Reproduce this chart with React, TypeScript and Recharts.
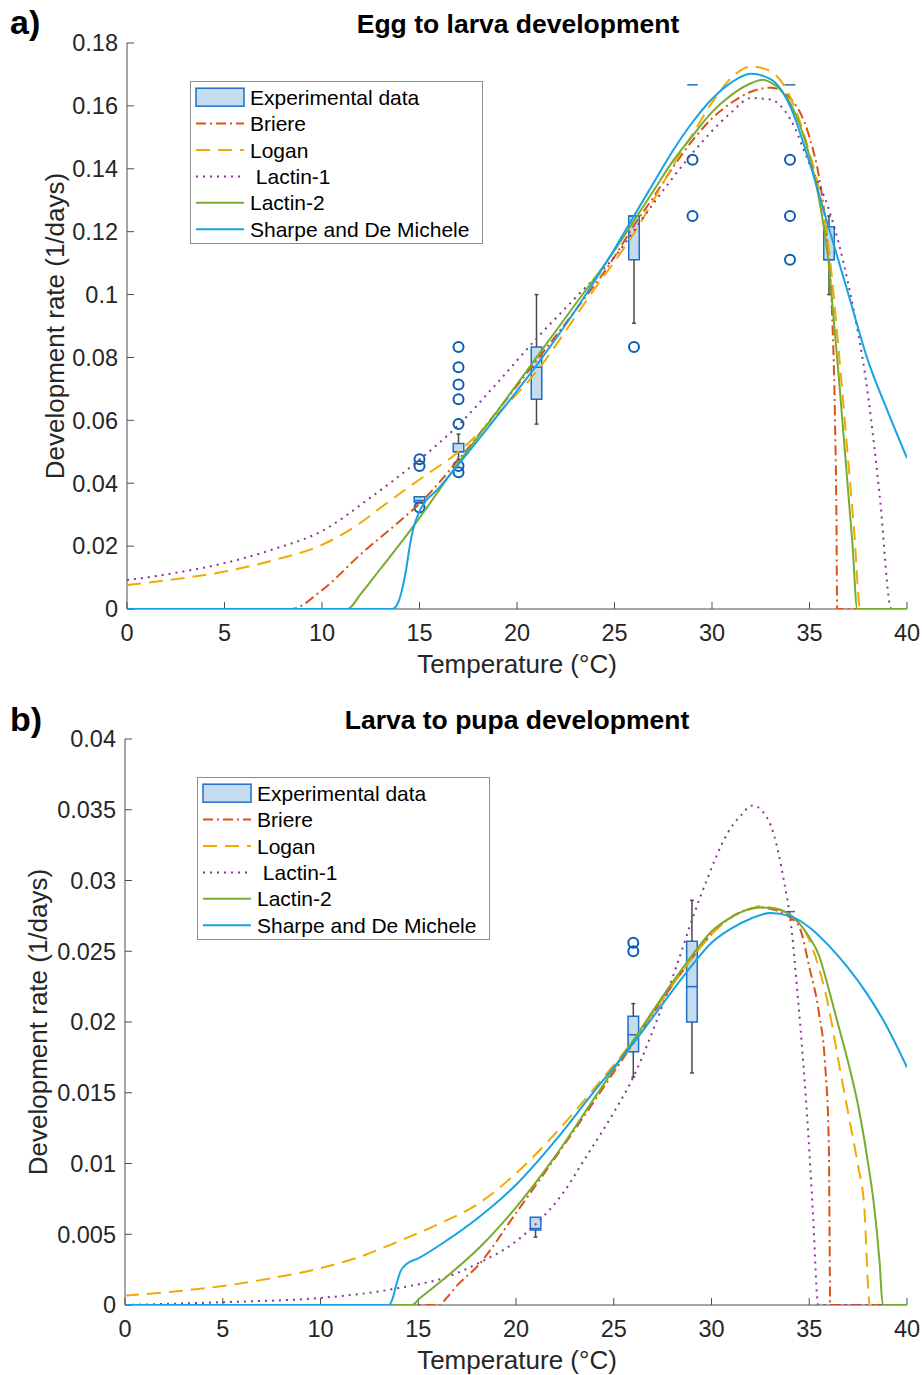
import React from "react";
import { ComposedChart, Line, XAxis, YAxis, Scatter, ReferenceArea, ReferenceLine } from "recharts";

const FONT = '"Liberation Sans", Arial, Helvetica, sans-serif';
const AXIS = "#4d4d4d";
const TXT = "#262626";
const BOX_FILL = "#c4dbf0";
const BOX_STROKE = "#1f6fc4";
const RING = "#0b5cb5";

const xTicks = [0, 5, 10, 15, 20, 25, 30, 35, 40];
const eggTicks = [0, 0.02, 0.04, 0.06, 0.08, 0.1, 0.12, 0.14, 0.16, 0.18];
const larvaTicks = [0, 0.005, 0.01, 0.015, 0.02, 0.025, 0.03, 0.035, 0.04];

// ---- a) egg to larva : [temperature, rate]
const eggBriere = [[0,0],[8.4,0],[10,0.006],[12,0.0175],[14,0.028],[15,0.0335],[17,0.0475],[19,0.063],[21,0.079],[23,0.095],[25,0.112],[26,0.122],[27,0.131],[28,0.1405],[29,0.149],[30,0.156],[31,0.161],[32,0.1645],[33,0.1658],[34,0.1625],[35,0.15],[35.5,0.137],[35.8,0.124],[36,0.111],[36.15,0.095],[36.3,0.063],[36.38,0.03],[36.42,0],[40,0]];
const eggLogan = [[0,0.0076],[2.5,0.0095],[5,0.0119],[7.5,0.0155],[10,0.0204],[12,0.0275],[13,0.0322],[15,0.0412],[17,0.05],[19,0.062],[21,0.0755],[23,0.093],[24,0.102],[25,0.1105],[26,0.1195],[27,0.13],[28,0.141],[29,0.151],[30,0.161],[31,0.169],[32,0.1725],[33,0.171],[34,0.163],[35,0.145],[35.5,0.133],[36,0.114],[36.5,0.082],[37,0.046],[37.3,0.024],[37.6,0],[40,0]];
const eggLactin1 = [[0,0.0092],[2.5,0.0115],[5,0.0146],[7.5,0.019],[10,0.0248],[12.5,0.0355],[15,0.0475],[17,0.0585],[19,0.072],[21,0.086],[23,0.099],[25,0.112],[27,0.129],[29,0.145],[30,0.152],[31,0.158],[32,0.1625],[33,0.162],[34,0.156],[35,0.1415],[36,0.127],[37,0.103],[38,0.068],[38.6,0.036],[39.2,0],[40,0]];
const eggLactin2 = [[0,0],[11.3,0],[12,0.0049],[13,0.0128],[14,0.0207],[15,0.029],[17,0.0465],[19,0.063],[21,0.08],[23,0.097],[25,0.114],[26,0.1235],[27,0.133],[28,0.1425],[29,0.1505],[30,0.158],[31,0.1635],[32,0.1672],[32.6,0.1683],[33,0.1675],[34,0.161],[35,0.144],[35.5,0.13],[36,0.109],[36.2,0.095],[36.5,0.074],[37,0.036],[37.2,0.021],[37.45,0],[40,0]];
const eggSharpe = [[0,0],[13.6,0],[13.9,0.002],[14.1,0.006],[14.3,0.012],[14.5,0.02],[14.7,0.026],[15,0.031],[16,0.0385],[17,0.046],[19,0.0615],[21,0.0775],[23,0.095],[25,0.1145],[26,0.125],[27,0.1355],[28,0.1458],[29,0.1548],[30,0.1622],[31,0.1675],[32,0.1702],[33,0.1685],[34,0.16],[35,0.142],[36,0.121],[37,0.1],[38,0.079],[39,0.063],[40,0.048]];

const eggBoxes = [
  { t: 15, lo: 0.0339, q1: 0.0339, med: 0.0345, q3: 0.0357, hi: 0.0357 },
  { t: 17, lo: 0.0476, q1: 0.05, med: 0.05, q3: 0.0526, hi: 0.0556 },
  { t: 21, lo: 0.0588, q1: 0.0667, med: 0.0769, q3: 0.0833, hi: 0.1 },
  { t: 26, lo: 0.0909, q1: 0.1111, med: 0.125, q3: 0.125, hi: 0.125 },
  { t: 29, lo: 0.1667, q1: 0.1667, med: 0.1667, q3: 0.1667, hi: 0.1667 },
  { t: 34, lo: 0.1667, q1: 0.1667, med: 0.1667, q3: 0.1667, hi: 0.1667 },
  { t: 36, lo: 0.1, q1: 0.1111, med: 0.1111, q3: 0.1216, hi: 0.125 },
];
const eggOutliers = [
  { t: 15, r: 0.0476 }, { t: 15, r: 0.0455 }, { t: 15, r: 0.0323 },
  { t: 17, r: 0.0833 }, { t: 17, r: 0.0769 }, { t: 17, r: 0.0714 }, { t: 17, r: 0.0667 },
  { t: 17, r: 0.0588 }, { t: 17, r: 0.0455 }, { t: 17, r: 0.0435 },
  { t: 26, r: 0.0833 },
  { t: 29, r: 0.1429 }, { t: 29, r: 0.125 },
  { t: 34, r: 0.1429 }, { t: 34, r: 0.125 }, { t: 34, r: 0.1111 },
];

// ---- b) larva to pupa
const larvaBriere = [[0,0],[16.1,0],[16.45,0.0005],[17,0.0014],[18,0.0027],[20,0.0065],[22,0.0104],[24,0.0144],[26,0.0185],[28,0.0226],[29,0.0245],[30,0.0262],[31,0.0274],[32,0.028],[32.5,0.0281],[33,0.028],[34,0.0274],[34.5,0.0267],[35,0.0239],[35.5,0.0206],[35.8,0.0172],[36,0.0115],[36.04,0.005],[36.07,0],[40,0]];
const larvaLogan = [[0,0.00066],[2.5,0.00095],[5,0.00134],[7.5,0.0019],[10,0.0026],[12,0.0034],[14,0.0045],[16,0.0057],[18,0.0071],[20,0.0093],[22,0.0121],[24,0.0153],[26,0.0187],[28,0.0226],[29,0.0245],[30,0.0262],[31,0.0274],[32,0.028],[32.5,0.0282],[33,0.0281],[34,0.0276],[35,0.0258],[35.5,0.0238],[36,0.021],[36.5,0.0172],[37,0.0135],[37.5,0.0098],[37.8,0.0072],[38.1,0],[40,0]];
const larvaLactin1 = [[0,0],[5,0.0002],[10,0.0005],[14,0.0012],[16.5,0.002],[18,0.0029],[20,0.0045],[21,0.0057],[22.4,0.0079],[23.6,0.0105],[25,0.0136],[26,0.0161],[27.2,0.0201],[28.2,0.0239],[29,0.0272],[29.75,0.03],[30.8,0.0333],[31.5,0.0346],[32.1,0.0353],[32.6,0.0349],[33.2,0.0332],[33.7,0.03],[34.1,0.0265],[34.4,0.022],[34.7,0.017],[34.95,0.0121],[35.2,0.0062],[35.46,0],[40,0]];
const larvaLactin2 = [[0,0],[14.66,0],[15.1,0.0005],[16.45,0.002],[18.16,0.0041],[20,0.0069],[22,0.0105],[24,0.0146],[26,0.0187],[28,0.0228],[29,0.0247],[30,0.0264],[31,0.0274],[32,0.028],[32.6,0.0281],[33.3,0.028],[34,0.0276],[35,0.026],[35.5,0.0247],[36,0.0223],[36.5,0.0197],[37,0.0171],[37.5,0.0141],[38,0.0101],[38.3,0.0072],[38.6,0.003],[38.76,0],[40,0]];
const larvaSharpe = [[0,0],[13.5,0],[13.7,0.0005],[13.85,0.0013],[14.1,0.0024],[14.4,0.0029],[15,0.0033],[16.5,0.0046],[18,0.0061],[20,0.0085],[22,0.0116],[24,0.0151],[26,0.0185],[28,0.0222],[29,0.024],[30,0.0256],[31,0.0266],[32,0.0273],[33,0.0277],[34,0.0275],[35,0.0267],[36,0.0254],[37,0.0238],[38,0.0219],[39,0.0196],[40,0.0168]];

const larvaBoxes = [
  { t: 21, lo: 0.0048, q1: 0.0053, med: 0.0054, q3: 0.0062, hi: 0.0062 },
  { t: 26, lo: 0.0161, q1: 0.0179, med: 0.0191, q3: 0.0204, hi: 0.0213 },
  { t: 29, lo: 0.0164, q1: 0.02, med: 0.0225, q3: 0.0257, hi: 0.0286 },
  { t: 34, lo: 0.0278, q1: 0.0278, med: 0.0278, q3: 0.0278, hi: 0.0278 },
];
const larvaOutliers = [{ t: 26, r: 0.0256 }, { t: 26, r: 0.025 }];

const SERIES = [
  { name: "Briere", color: "#d95319", dash: "10 4 2 4" },
  { name: "Logan", color: "#f2a900", dash: "14 8" },
  { name: " Lactin-1", color: "#8a3596", dash: "2 5" },
  { name: "Lactin-2", color: "#77ac30", dash: undefined },
  { name: "Sharpe and De Michele", color: "#16a2e4", dash: undefined },
];

const pts = (a: number[][]) => a.map(([t, r]) => ({ t, r }));
const HW = 0.27;
const CAP = 0.1;
const WHISK = "#4a4a4a";

const Ring = (p: any) => <circle cx={p.cx} cy={p.cy} r={5} fill="none" stroke={RING} strokeWidth={2} />;

// draws the axes, boxes and outliers; with `curves` set, draws only the fitted lines (top layer)
function Layer({ height, plotTop, yW, xH, yMax, yTicks, boxes, outliers, curves }: any) {
  const top = !!curves;
  const tickStyle = { fill: TXT, fontSize: 23.5, fontFamily: FONT };
  return (
    <ComposedChart width={922} height={height} margin={{ top: plotTop, right: 15, left: 0, bottom: 0 }}>
      <XAxis dataKey="t" type="number" domain={[0, 40]} ticks={xTicks} interval={0} allowDataOverflow
        height={xH} stroke={AXIS} tickSize={-7} tickMargin={22} tick={top ? false : tickStyle}
        axisLine={!top} tickLine={!top} />
      <YAxis type="number" domain={[0, yMax]} ticks={yTicks} interval={0} allowDataOverflow
        width={yW} stroke={AXIS} tickSize={-7} tickMargin={16} tick={top ? false : tickStyle}
        axisLine={!top} tickLine={!top} />
      {!top && boxes.map((b: any) => (
        <React.Fragment key={"b" + b.t}>
          {b.hi > b.q3 && <ReferenceLine segment={[{ x: b.t, y: b.q3 }, { x: b.t, y: b.hi }]} stroke={WHISK} strokeWidth={1.5} />}
          {b.hi > b.q3 && <ReferenceLine segment={[{ x: b.t - CAP, y: b.hi }, { x: b.t + CAP, y: b.hi }]} stroke={WHISK} strokeWidth={1.5} />}
          {b.lo < b.q1 && <ReferenceLine segment={[{ x: b.t, y: b.lo }, { x: b.t, y: b.q1 }]} stroke={WHISK} strokeWidth={1.5} />}
          {b.lo < b.q1 && <ReferenceLine segment={[{ x: b.t - CAP, y: b.lo }, { x: b.t + CAP, y: b.lo }]} stroke={WHISK} strokeWidth={1.5} />}
          {b.q3 > b.q1 && (
            <ReferenceArea x1={b.t - HW} x2={b.t + HW} y1={b.q1} y2={b.q3} fill={BOX_FILL} fillOpacity={1}
              stroke={BOX_STROKE} strokeWidth={1.5} strokeOpacity={1} />
          )}
          <ReferenceLine segment={[{ x: b.t - HW, y: b.med }, { x: b.t + HW, y: b.med }]} stroke={BOX_STROKE} strokeWidth={1.5} />
        </React.Fragment>
      ))}
      {!top && <Scatter data={outliers} dataKey="r" shape={Ring} isAnimationActive={false} />}
      {top && curves.map((c: number[][], i: number) => (
        <Line key={"c" + i} data={pts(c)} dataKey="r" type="monotone" stroke={SERIES[i].color}
          strokeDasharray={SERIES[i].dash} strokeWidth={2} dot={false} activeDot={false} isAnimationActive={false} />
      ))}
    </ComposedChart>
  );
}

function Panel(props: any) {
  const { top, curves, ...rest } = props;
  return (
    <>
      <div style={{ position: "absolute", left: 0, top }}>
        <Layer {...rest} />
      </div>
      <div style={{ position: "absolute", left: 0, top }}>
        <Layer {...rest} curves={curves} />
      </div>
    </>
  );
}

function LegendBox({ x, y }: { x: number; y: number }) {
  const fs = 21;
  const row = (i: number) => 16.2 + i * 26.4;
  return (
    <g transform={`translate(${x},${y})`}>
      <rect x={0.5} y={0.5} width={292} height={162} fill="#fff" stroke="#8c8c8c" strokeWidth={1} />
      <rect x={6} y={row(0) - 9} width={48} height={18} fill={BOX_FILL} stroke={BOX_STROKE} strokeWidth={1.5} />
      <text x={60} y={row(0) + 7.5} fontSize={fs} fill="#000">Experimental data</text>
      {SERIES.map((s, i) => (
        <g key={s.name}>
          <line x1={6} x2={54} y1={row(i + 1)} y2={row(i + 1)} stroke={s.color} strokeWidth={2} strokeDasharray={s.dash} />
          <text x={60} y={row(i + 1) + 7.5} fontSize={fs} fill="#000" style={{ whiteSpace: "pre" }}>{s.name}</text>
        </g>
      ))}
    </g>
  );
}

export default function App() {
  return (
    <div style={{ position: "absolute", left: 0, top: 0, width: 922, height: 1375, background: "#fff", fontFamily: FONT }}>
      <Panel top={0} height={690} plotTop={43} yW={127} xH={81} yMax={0.18} yTicks={eggTicks}
        curves={[eggBriere, eggLogan, eggLactin1, eggLactin2, eggSharpe]} boxes={eggBoxes} outliers={eggOutliers} />
      <Panel top={690} height={685} plotTop={49} yW={125} xH={70} yMax={0.04} yTicks={larvaTicks}
        curves={[larvaBriere, larvaLogan, larvaLactin1, larvaLactin2, larvaSharpe]} boxes={larvaBoxes} outliers={larvaOutliers} />
      <svg width={922} height={1375} style={{ position: "absolute", left: 0, top: 0, pointerEvents: "none", fontFamily: FONT }}>
        <text x={10} y={34} fontSize={34} fontWeight="bold" fill="#000">a)</text>
        <text x={518} y={33} fontSize={26.5} fontWeight="bold" textAnchor="middle" fill="#000">Egg to larva development</text>
        <text x={517} y={673} fontSize={26} textAnchor="middle" fill={TXT}>Temperature (°C)</text>
        <text transform="translate(64,326) rotate(-90)" fontSize={26} textAnchor="middle" fill={TXT}>Development rate (1/days)</text>
        <LegendBox x={190} y={81} />

        <text x={10} y={731} fontSize={34} fontWeight="bold" fill="#000">b)</text>
        <text x={517} y={729} fontSize={26.5} fontWeight="bold" textAnchor="middle" fill="#000">Larva to pupa development</text>
        <text x={517} y={1369} fontSize={26} textAnchor="middle" fill={TXT}>Temperature (°C)</text>
        <text transform="translate(47,1022) rotate(-90)" fontSize={26} textAnchor="middle" fill={TXT}>Development rate (1/days)</text>
        <LegendBox x={197} y={777} />
      </svg>
    </div>
  );
}
